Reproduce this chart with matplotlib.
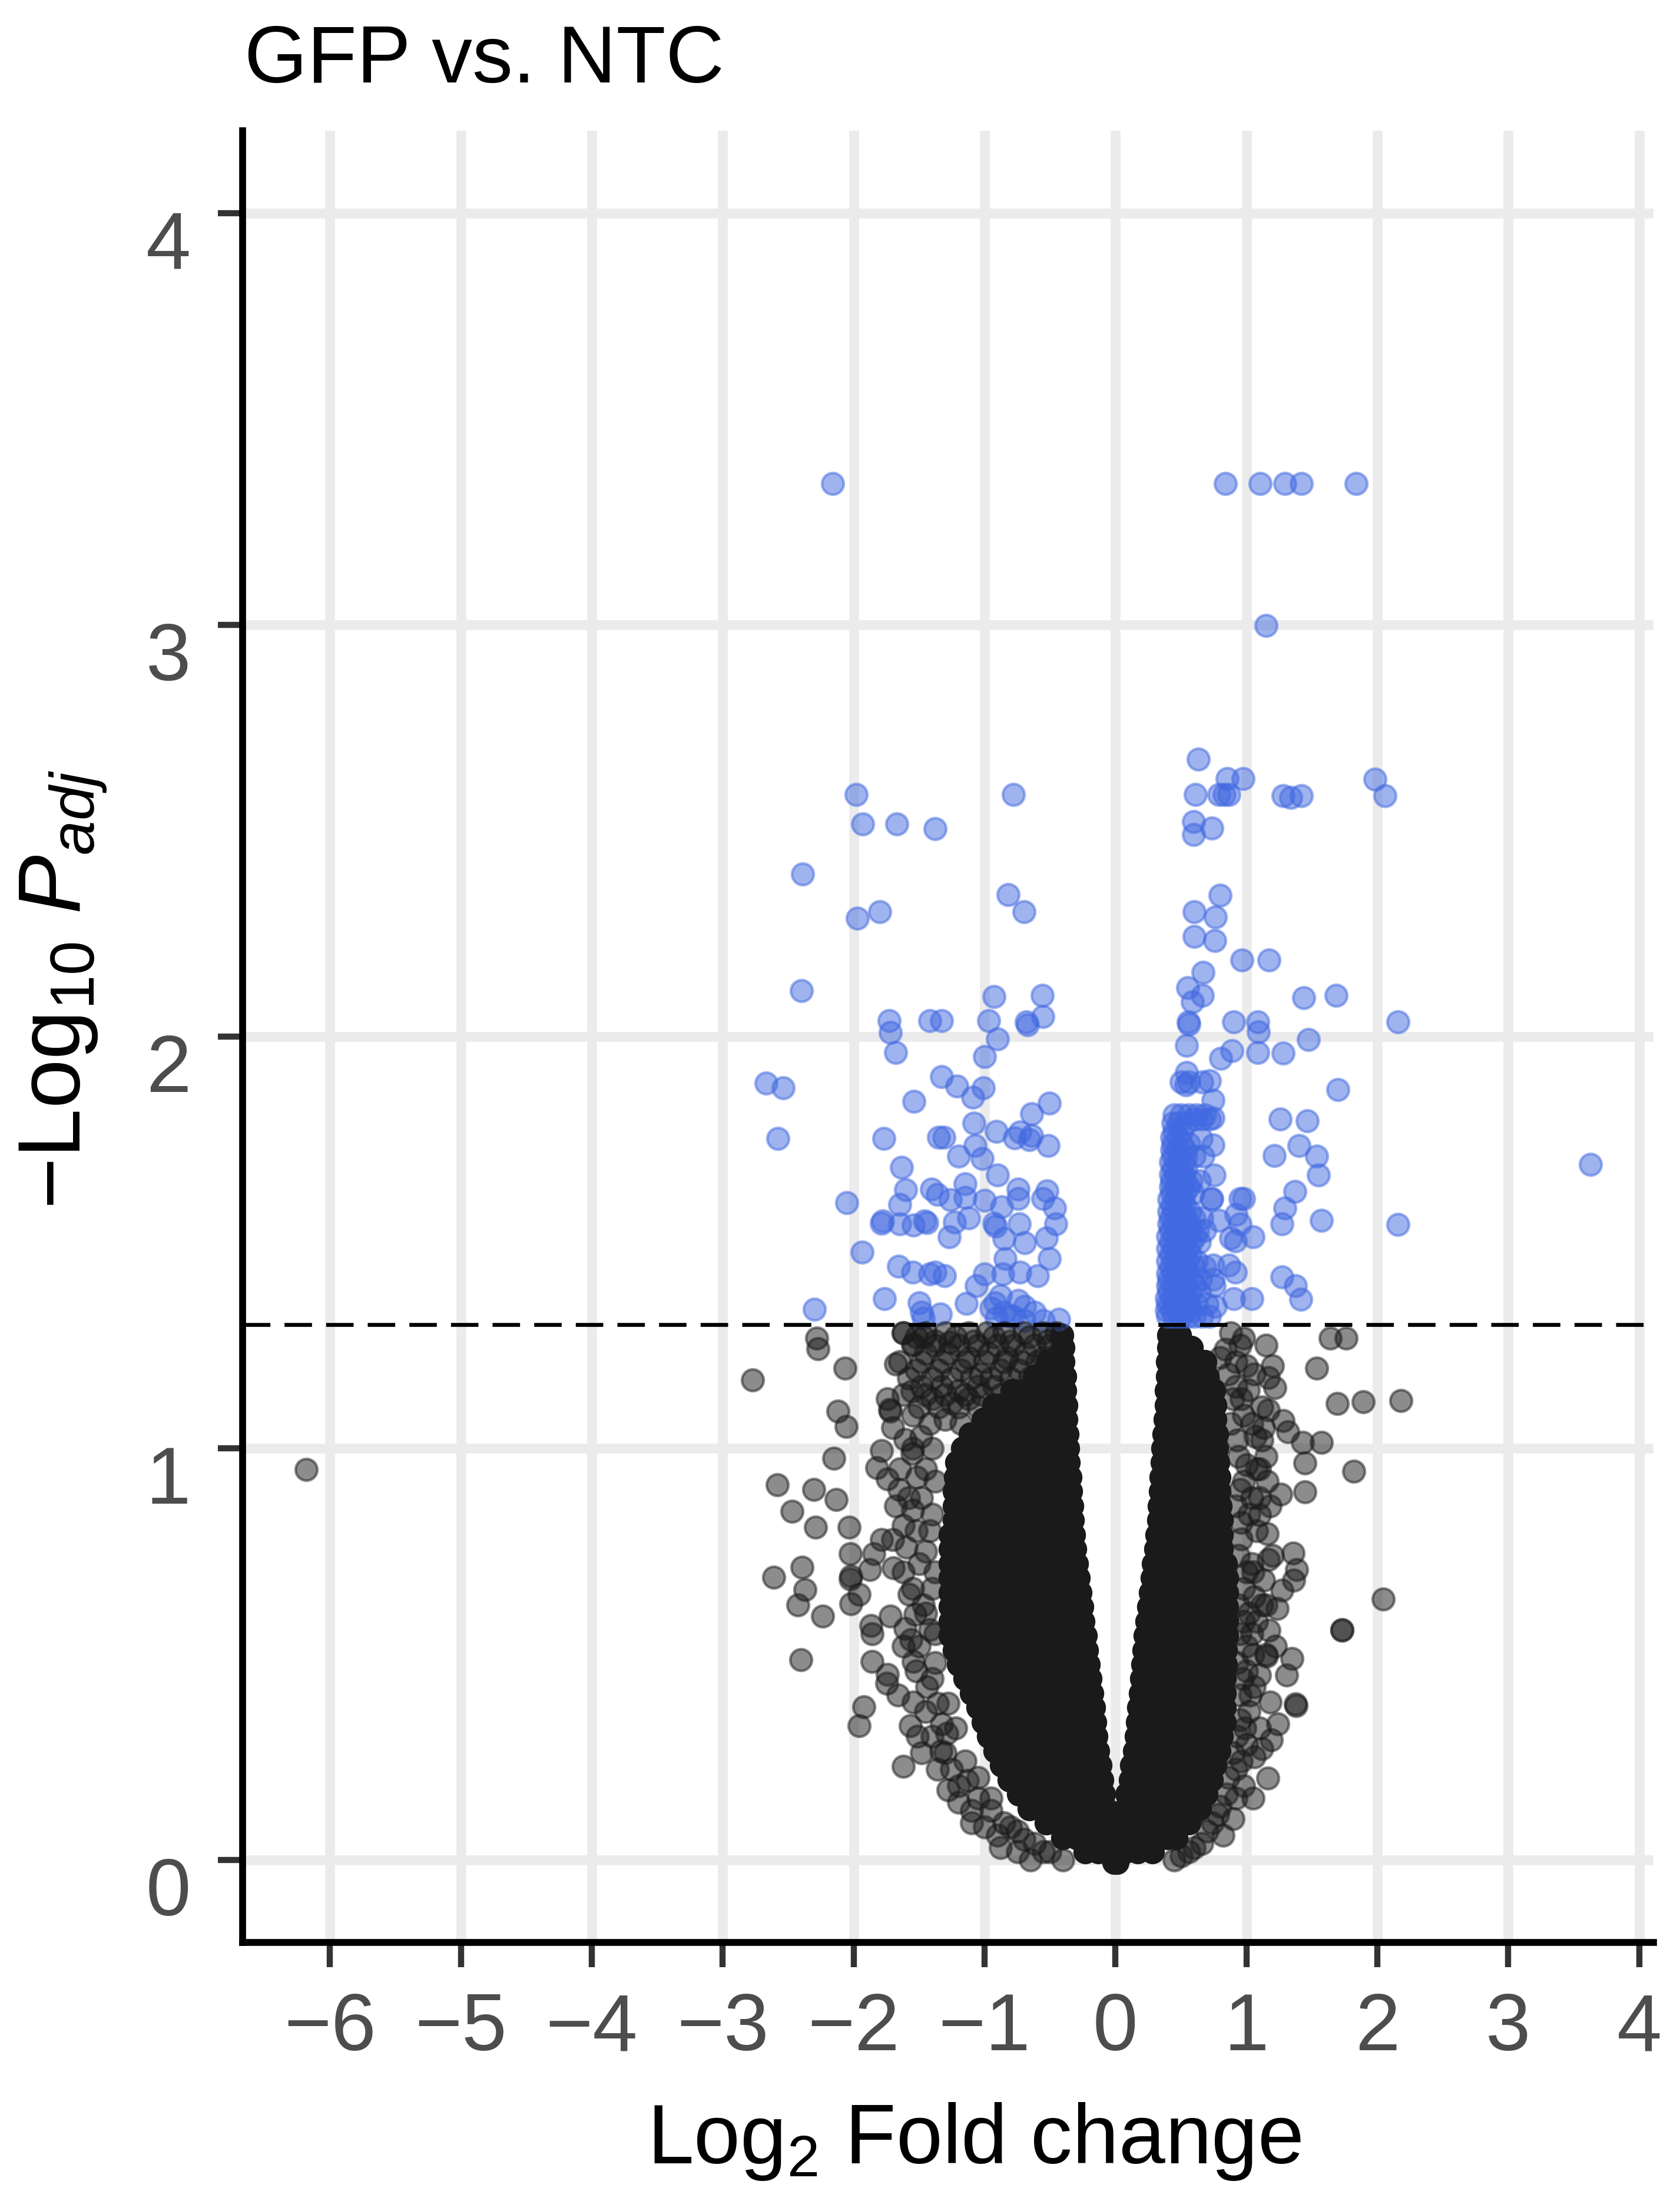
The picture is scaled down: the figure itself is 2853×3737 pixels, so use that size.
import matplotlib
matplotlib.use("Agg")
import matplotlib.pyplot as plt
from matplotlib.transforms import ScaledTranslation

plt.rcParams['font.family'] = ['Liberation Sans', 'DejaVu Sans']
plt.rcParams['mathtext.fontset'] = 'custom'
plt.rcParams['mathtext.rm'] = 'Liberation Sans'
plt.rcParams['mathtext.it'] = 'Liberation Sans:italic'
plt.rcParams['axes.unicode_minus'] = True

# ---------------- data ----------------
title_text = "GFP vs. NTC"
x_ticks = [-6, -5, -4, -3, -2, -1, 0, 1, 2, 3, 4]
y_ticks = [0, 1, 2, 3, 4]
padj_threshold_nlp = 1.30103   # -log10(0.05)

# significant genes (log2FC, -log10 padj)
sig_points = [
    (-2.16, 3.343), (0.839, 3.343), (1.104, 3.343), (1.295, 3.343), (1.42, 3.343), (1.84, 3.343),
    (1.149, 2.998),
    (-1.98, 2.588), (-0.78, 2.588), (-1.93, 2.517), (-1.67, 2.517), (-1.38, 2.505), (-2.39, 2.395),
    (-0.82, 2.344), (-0.70, 2.303), (-1.97, 2.288), (-1.80, 2.303), (-2.40, 2.111), (-0.93, 2.097),
    (-0.56, 2.10), (-1.73, 2.039), (-1.72, 2.01), (-1.68, 1.962), (-1.42, 2.038), (-1.33, 2.038),
    (-0.97, 2.038), (-0.90, 1.994), (-1.00, 1.951), (-0.68, 2.035), (-0.67, 2.028), (-0.555, 2.049),
    (-2.67, 1.887), (-2.54, 1.876), (-1.33, 1.903), (-1.21, 1.88), (-1.01, 1.875), (-1.09, 1.852),
    (-1.54, 1.843), (-0.505, 1.838), (-0.64, 1.812),
    (-2.58, 1.753), (-1.77, 1.753), (-1.08, 1.79), (-0.91, 1.769), (-1.35, 1.756), (-1.31, 1.756),
    (-0.77, 1.754), (-0.73, 1.768), (-0.64, 1.759), (-0.66, 1.749), (-0.514, 1.735), (-1.074, 1.735),
    (-1.197, 1.709), (-1.016, 1.704), (-1.633, 1.683), (-0.901, 1.664), (-2.052, 1.597),
    (-1.601, 1.628), (-1.403, 1.63), (-1.148, 1.642), (-1.148, 1.61), (-1.649, 1.592),
    (-1.361, 1.616), (-1.263, 1.604), (-1.0, 1.602), (-0.868, 1.587), (-0.744, 1.63),
    (-0.744, 1.607), (-0.523, 1.625), (-0.555, 1.607), (-0.465, 1.583), (-1.789, 1.547),
    (-1.78, 1.552), (-1.649, 1.545), (-1.543, 1.542), (-1.46, 1.552), (-1.44, 1.548),
    (-1.123, 1.559), (-1.23, 1.549), (-0.926, 1.547), (-0.915, 1.54), (-0.736, 1.545),
    (-0.456, 1.545), (-1.271, 1.514), (-0.851, 1.509), (-0.695, 1.499), (-0.53, 1.511),
    (-1.937, 1.476), (-0.843, 1.461), (-0.506, 1.461), (-1.658, 1.442), (-1.551, 1.428),
    (-1.419, 1.423), (-1.378, 1.428), (-1.304, 1.419), (-1.0, 1.423), (-0.859, 1.423),
    (-0.728, 1.428), (-0.596, 1.419), (-1.065, 1.395), (-1.765, 1.364), (-1.501, 1.354),
    (-1.139, 1.352), (-0.917, 1.354), (-0.744, 1.359), (-0.695, 1.345), (-2.3, 1.338),
    (-1.468, 1.316), (-1.337, 1.326), (-0.432, 1.314), (-0.909, 1.316), (-0.80, 1.32),
    (-0.62, 1.33), (-0.55, 1.31), (-1.48, 1.33), (-0.95, 1.34), (-0.85, 1.33), (-0.78, 1.32),
    (-0.70, 1.31), (-0.88, 1.37),
    (0.633, 2.673), (0.851, 2.627), (0.974, 2.627), (0.611, 2.588), (0.79, 2.588), (0.866, 2.588),
    (0.83, 2.588), (1.28, 2.585), (1.34, 2.58), (1.42, 2.585), (1.98, 2.625), (2.06, 2.585),
    (0.595, 2.522), (0.595, 2.491), (0.734, 2.507), (0.80, 2.343), (0.603, 2.303), (0.761, 2.29),
    (0.603, 2.243), (0.757, 2.233), (0.964, 2.186), (1.173, 2.186), (0.668, 2.156), (0.55, 2.119),
    (0.663, 2.10), (0.588, 2.085), (1.437, 2.095), (1.685, 2.10), (0.558, 2.036), (0.56, 2.03),
    (0.904, 2.036), (1.085, 2.036), (1.092, 2.012), (2.156, 2.036), (0.543, 1.979), (1.476, 1.993),
    (0.889, 1.965), (0.802, 1.947), (1.085, 1.962), (1.28, 1.96), (0.543, 1.913), (0.536, 1.882),
    (0.716, 1.892), (1.697, 1.871), (0.744, 1.845), (1.257, 1.80), (1.465, 1.796),
    (1.212, 1.711), (1.40, 1.735), (1.535, 1.709), (1.55, 1.664), (1.37, 1.623), (1.295, 1.583),
    (1.272, 1.545), (1.573, 1.554), (2.156, 1.544), (1.272, 1.417), (1.377, 1.395), (1.415, 1.362),
    (0.904, 1.364), (1.04, 1.364), (0.952, 1.607), (0.98, 1.607), (0.92, 1.568), (0.952, 1.545),
    (1.05, 1.514), (0.917, 1.504), (0.79, 1.554), (0.738, 1.607), (0.746, 1.737), (0.753, 1.664),
    (0.746, 1.802), (0.746, 1.445), (0.866, 1.445), (0.917, 1.428), (0.753, 1.395), (0.761, 1.345),
    (3.63, 1.69), (0.668, 1.71), (0.73, 1.605), (0.88, 1.51), (0.654, 1.752),
    (0.40, 1.32), (0.45, 1.32), (0.50, 1.32), (0.55, 1.32), (0.60, 1.32), (0.66, 1.32), (0.72, 1.32),
    (0.40, 1.35), (0.45, 1.35), (0.50, 1.35), (0.56, 1.35), (0.62, 1.35), (0.70, 1.35),
    (0.41, 1.38), (0.46, 1.38), (0.51, 1.38), (0.57, 1.38), (0.64, 1.38),
    (0.41, 1.41), (0.46, 1.41), (0.52, 1.41), (0.58, 1.41), (0.65, 1.41), (0.745, 1.41),
    (0.42, 1.44), (0.47, 1.44), (0.53, 1.44), (0.60, 1.44), (0.68, 1.44),
    (0.42, 1.47), (0.47, 1.47), (0.52, 1.47), (0.57, 1.47),
    (0.42, 1.50), (0.47, 1.50), (0.52, 1.50), (0.58, 1.50), (0.64, 1.50),
    (0.42, 1.53), (0.47, 1.53), (0.52, 1.53), (0.57, 1.53), (0.63, 1.53), (0.68, 1.53),
    (0.42, 1.56), (0.48, 1.56), (0.54, 1.56), (0.60, 1.56), (0.66, 1.56),
    (0.43, 1.59), (0.48, 1.59), (0.53, 1.59),
    (0.43, 1.62), (0.48, 1.62), (0.53, 1.62), (0.59, 1.62),
    (0.43, 1.65), (0.48, 1.65), (0.53, 1.65), (0.58, 1.65), (0.64, 1.65),
    (0.44, 1.68), (0.49, 1.68), (0.54, 1.68),
    (0.44, 1.71), (0.49, 1.71), (0.54, 1.71), (0.60, 1.71),
    (0.44, 1.74), (0.50, 1.74), (0.56, 1.74),
    (0.45, 1.77), (0.50, 1.77),
    (0.45, 1.81), (0.50, 1.81), (0.56, 1.81), (0.62, 1.81), (0.68, 1.81),
    (0.50, 1.89), (0.56, 1.89), (0.66, 1.89),
    (0.39, 1.335), (0.43, 1.335), (0.48, 1.335), (0.53, 1.335), (0.58, 1.335),
    (0.39, 1.365), (0.43, 1.365), (0.48, 1.365), (0.53, 1.365),
    (0.40, 1.395), (0.44, 1.395), (0.49, 1.395), (0.54, 1.395), (0.60, 1.395),
    (0.40, 1.425), (0.44, 1.425), (0.49, 1.425), (0.55, 1.425),
    (0.40, 1.455), (0.45, 1.455), (0.50, 1.455), (0.55, 1.455), (0.62, 1.455),
    (0.40, 1.485), (0.45, 1.485), (0.50, 1.485), (0.55, 1.485),
    (0.40, 1.515), (0.45, 1.515), (0.50, 1.515), (0.55, 1.515), (0.61, 1.515),
    (0.41, 1.545), (0.45, 1.545), (0.50, 1.545), (0.56, 1.545),
    (0.41, 1.575), (0.45, 1.575), (0.51, 1.575), (0.57, 1.575),
    (0.41, 1.605), (0.46, 1.605), (0.51, 1.605),
    (0.42, 1.635), (0.46, 1.635), (0.51, 1.635), (0.56, 1.635),
    (0.42, 1.665), (0.46, 1.665), (0.52, 1.665),
    (0.42, 1.695), (0.47, 1.695), (0.52, 1.695),
    (0.43, 1.725), (0.47, 1.725), (0.53, 1.725),
    (0.43, 1.755), (0.48, 1.755),
    (0.44, 1.79), (0.48, 1.79), (0.54, 1.79), (0.60, 1.80), (0.66, 1.80), (0.72, 1.80),
]

# non-significant genes outside the dense core (log2FC, -log10 padj)
ns_points = [
    (-6.18, 0.949),
    (-2.771, 1.166), (-2.282, 1.268), (-2.275, 1.242), (-2.065, 1.195), (-2.12, 1.09), (-2.057, 1.053),
    (-2.152, 0.976), (-2.583, 0.911), (-2.305, 0.90), (-2.132, 0.875), (-2.47, 0.847), (-2.293, 0.809),
    (-2.034, 0.809), (-2.027, 0.744), (-2.395, 0.711), (-2.61, 0.687), (-2.373, 0.656), (-2.425, 0.619),
    (-2.237, 0.592), (-2.027, 0.683), (-2.02, 0.69), (-1.959, 0.645), (-2.019, 0.622), (-1.876, 0.706),
    (-2.405, 0.486), (-1.861, 0.482), (-1.921, 0.372), (-1.959, 0.326), (-1.621, 0.227), (-1.786, 0.995),
    (-1.824, 0.953), (-1.741, 0.926), (-1.651, 0.90), (-1.681, 1.204), (-1.621, 1.28), (-1.744, 1.12),
    (-1.726, 1.094), (-1.72, 1.09), (-1.463, 1.271), (-1.546, 1.253), (-1.553, 1.139), (-1.267, 1.257),
    (-1.786, 0.778), (-1.704, 0.778), (-1.846, 0.744), (-1.696, 0.71), (-1.869, 0.569), (-1.861, 0.55),
    (-1.718, 0.592), (-1.606, 0.562), (-1.561, 0.535), (-1.741, 0.451), (-1.749, 0.429), (-1.546, 0.482),
    (-1.546, 0.383), (-1.568, 0.326), (-1.515, 0.30), (-1.335, 0.265), (-1.29, 0.307), (-1.132, 0.193),
    (-1.576, 0.645), (-1.531, 0.596), (-1.606, 1.021), (-1.485, 1.029), (-1.553, 0.987), (-1.516, 0.93),
    (-1.621, 0.812),
    (-1.62, 1.28), (-1.45, 1.28), (-1.30, 1.28), (-1.12, 1.28), (-0.98, 1.28), (-0.85, 1.28),
    (-0.70, 1.28), (-0.55, 1.28), (-0.45, 1.28),
    (-1.55, 1.25), (-1.38, 1.25), (-1.20, 1.25), (-1.05, 1.25), (-0.90, 1.25), (-0.78, 1.25),
    (-0.62, 1.25), (-0.50, 1.25),
    (-1.65, 1.21), (-1.48, 1.21), (-1.32, 1.21), (-1.15, 1.21), (-1.00, 1.21), (-0.85, 1.21),
    (-0.72, 1.21), (-0.60, 1.21), (-0.48, 1.21),
    (-1.58, 1.17), (-1.40, 1.17), (-1.25, 1.17), (-1.10, 1.17), (-0.95, 1.17), (-0.80, 1.17),
    (-0.66, 1.17), (-0.52, 1.17),
    (-1.62, 1.13), (-1.45, 1.13), (-1.30, 1.13), (-1.15, 1.13), (-1.02, 1.13), (-0.88, 1.13), (-0.72, 1.13),
    (-1.50, 1.10), (-1.35, 1.10), (-1.20, 1.10), (-1.05, 1.10),
    (-1.52, 1.27), (-1.38, 1.26), (-1.22, 1.27), (-1.08, 1.26), (-0.93, 1.27), (-0.80, 1.26),
    (-0.66, 1.27), (-0.52, 1.26),
    (-1.45, 1.23), (-1.28, 1.23), (-1.12, 1.22), (-0.97, 1.23), (-0.83, 1.22), (-0.69, 1.23),
    (-0.55, 1.22), (-0.44, 1.23),
    (-1.52, 1.19), (-1.35, 1.19), (-1.18, 1.19), (-1.03, 1.18), (-0.88, 1.19), (-0.74, 1.19),
    (-0.58, 1.18), (-0.45, 1.19),
    (-1.48, 1.15), (-1.33, 1.15), (-1.20, 1.14), (-1.05, 1.15), (-0.93, 1.15),
    (-1.40, 1.12), (-1.25, 1.11), (-1.12, 1.12), (-1.55, 1.08), (-1.30, 1.07), (-1.18, 1.06),
    (-1.42, 1.06), (-1.48, 0.88), (-1.40, 0.84), (-1.52, 0.80), (-1.45, 0.75), (-1.40, 0.66),
    (-1.47, 0.62), (-1.42, 0.56), (-1.50, 0.52), (-1.38, 0.48), (-1.44, 0.42), (-1.36, 0.38),
    (-1.40, 0.30), (-1.30, 0.26), (-1.25, 0.22), (-1.20, 0.18), (-1.05, 0.15), (-0.95, 0.12),
    (-0.85, 0.09), (-0.75, 0.07), (-0.62, 0.04), (-0.50, 0.02), (-0.40, 0.00), (-1.62, 0.70),
    (-1.58, 0.88), (-1.65, 0.95), (-1.55, 1.00), (-1.70, 1.05),
    (-0.95, 0.15), (-1.05, 0.20), (-0.80, 0.08), (-0.70, 0.05), (-0.55, 0.02), (-1.15, 0.24),
    (-1.22, 0.32), (-1.28, 0.38), (-1.10, 0.12), (-0.90, 0.06),
    (-1.40, 1.00), (-1.45, 0.95), (-1.38, 0.92), (-1.55, 0.85), (-1.42, 0.80), (-1.50, 0.72),
    (-1.38, 0.70), (-1.55, 0.66), (-1.45, 0.60), (-1.38, 0.55), (-1.52, 0.46), (-1.40, 0.44),
    (-1.45, 0.36), (-1.33, 0.33), (-1.48, 0.26), (-1.36, 0.22), (-1.20, 0.14), (-1.10, 0.09),
    (-1.00, 0.08), (-0.88, 0.03), (-0.75, 0.02), (-0.65, 0.00), (-1.28, 0.17), (-1.62, 0.52),
    (-1.66, 0.40), (-1.60, 0.76), (-1.68, 0.86),
    (1.64, 1.267), (1.761, 1.267), (1.538, 1.195), (1.693, 1.109), (1.893, 1.113), (2.182, 1.116),
    (1.573, 1.014), (1.821, 0.944), (2.043, 0.634), (1.731, 0.558), (1.73, 0.56), (1.445, 0.894),
    (1.43, 1.014), (1.152, 1.251), (0.979, 1.267), (1.167, 1.171), (1.219, 1.147), (1.016, 1.141),
    (1.167, 1.093), (1.28, 1.067), (1.317, 1.04), (1.069, 1.029), (1.355, 0.746), (1.385, 0.706),
    (1.362, 0.679), (1.272, 0.655), (1.235, 0.611), (1.174, 0.558), (1.152, 0.499), (1.155, 0.495),
    (1.347, 0.49), (1.309, 0.45), (1.377, 0.379), (1.38, 0.375), (1.182, 0.383), (1.19, 0.292),
    (1.163, 0.199), (1.445, 0.964), (1.264, 0.888), (1.167, 0.729), (1.159, 0.793), (1.099, 0.839),
    (0.95, 1.25), (1.0, 1.20), (0.92, 1.15), (0.98, 1.08), (0.93, 1.02), (1.0, 0.96), (0.95, 0.90),
    (1.02, 0.84), (0.96, 0.78), (1.04, 0.72), (0.98, 0.66), (1.02, 0.60), (0.95, 0.55), (1.05, 0.50),
    (0.97, 0.44), (1.03, 0.40), (0.95, 0.34), (1.0, 0.28), (0.92, 0.22), (0.85, 0.16), (0.78, 0.11),
    (0.70, 0.07), (0.60, 0.03), (0.50, 0.01), (1.1, 0.95), (1.08, 0.80), (1.12, 0.62), (1.1, 0.32),
    (1.06, 0.25), (1.13, 1.05), (1.12, 1.02), (1.08, 0.95), (1.15, 0.98), (1.1, 0.88), (1.18, 0.86),
    (1.05, 0.70), (1.13, 0.68), (1.08, 0.58), (1.0, 0.52), (1.1, 0.45), (1.02, 0.36), (0.98, 0.18),
    (1.05, 0.15), (0.90, 0.10), (0.82, 0.06),
    (0.88, 1.28), (0.84, 1.24), (0.92, 1.21), (0.86, 1.18), (0.80, 1.22), (0.90, 1.12), (0.96, 1.12),
    (0.88, 1.06), (1.04, 1.06), (0.94, 0.98), (0.98, 0.92), (0.92, 0.86), (1.04, 0.88), (0.96, 0.82),
    (0.94, 0.74), (1.00, 0.70), (0.94, 0.62), (1.06, 0.64), (0.98, 0.58), (1.04, 0.55), (0.93, 0.48),
    (1.00, 0.46), (0.95, 0.40), (1.06, 0.42), (0.93, 0.30), (0.99, 0.32), (0.90, 0.26), (0.96, 0.24),
    (0.86, 0.20), (0.92, 0.15), (0.80, 0.13), (0.74, 0.09), (0.66, 0.04), (0.56, 0.02), (0.45, 0.00),
    (1.16, 0.92), (1.20, 0.74), (1.22, 0.52), (1.15, 0.62), (1.24, 0.33), (1.12, 0.27), (1.2, 1.2),
    (1.06, 1.18), (1.12, 1.1),
]

# dense, fully overlapping core of non-significant genes, read row by row
core_nlp_levels = [-0.005, 0.02, 0.055, 0.09, 0.125, 0.16, 0.195, 0.23, 0.265, 0.30, 0.335, 0.37,
                   0.405, 0.44, 0.475, 0.51, 0.545, 0.58, 0.615, 0.65, 0.685, 0.72, 0.755, 0.79,
                   0.825, 0.86, 0.895, 0.93, 0.965, 1.0, 1.035, 1.07, 1.105, 1.14, 1.175, 1.21,
                   1.245, 1.275]
core_lfc_rows = [
    [-0.01, 0.01],
    [-0.23, -0.13, -0.03, 0.07, 0.17, 0.28],
    [-0.40, -0.30, -0.20, -0.10, 0.0, 0.10, 0.20, 0.30, 0.40, 0.46],
    [-0.53, -0.43, -0.33, -0.23, -0.13, -0.03, 0.07, 0.17, 0.27, 0.37, 0.47, 0.56],
    [-0.66, -0.56, -0.46, -0.36, -0.26, -0.16, -0.075, 0.075, 0.15, 0.25, 0.35, 0.45, 0.55, 0.64],
    [-0.09, -0.18, -0.28, -0.38, -0.48, -0.58, -0.67, -0.74, 0.09, 0.18, 0.28, 0.38, 0.48, 0.58, 0.69],
    [-0.105, -0.20, -0.30, -0.40, -0.50, -0.60, -0.70, -0.81, 0.115, 0.21, 0.31, 0.41, 0.51, 0.61, 0.73],
    [-0.12, -0.22, -0.32, -0.42, -0.52, -0.62, -0.72, -0.80, -0.87, 0.125, 0.22, 0.32, 0.42, 0.52, 0.62, 0.70, 0.76],
    [-0.135, -0.23, -0.33, -0.43, -0.53, -0.63, -0.73, -0.83, -0.92, 0.145, 0.24, 0.34, 0.44, 0.54, 0.64, 0.72, 0.79],
    [-0.15, -0.245, -0.345, -0.445, -0.545, -0.645, -0.745, -0.845, -0.915, -0.97,
     0.16, 0.255, 0.355, 0.455, 0.555, 0.655, 0.74, 0.81],
    [-0.16, -0.26, -0.36, -0.46, -0.56, -0.66, -0.76, -0.86, -0.94, -1.01,
     0.17, 0.27, 0.37, 0.47, 0.57, 0.67, 0.76, 0.83],
    [-0.17, -0.27, -0.37, -0.47, -0.57, -0.67, -0.77, -0.87, -0.97, -1.05,
     0.18, 0.28, 0.38, 0.48, 0.58, 0.68, 0.76, 0.83],
    [-0.18, -0.28, -0.38, -0.48, -0.58, -0.68, -0.78, -0.88, -0.98, -1.05, -1.10,
     0.19, 0.29, 0.39, 0.49, 0.59, 0.69, 0.77, 0.83],
    [-0.195, -0.295, -0.395, -0.495, -0.595, -0.695, -0.795, -0.895, -0.995, -1.08, -1.15,
     0.20, 0.30, 0.40, 0.50, 0.60, 0.70, 0.77, 0.83],
    [-0.21, -0.31, -0.41, -0.51, -0.61, -0.71, -0.81, -0.91, -1.01, -1.11, -1.20,
     0.21, 0.31, 0.41, 0.51, 0.61, 0.71, 0.78, 0.84],
    [-0.22, -0.32, -0.42, -0.52, -0.62, -0.72, -0.82, -0.92, -1.02, -1.12, -1.23,
     0.22, 0.32, 0.42, 0.52, 0.62, 0.72, 0.78, 0.84],
    [-0.23, -0.33, -0.43, -0.53, -0.63, -0.73, -0.83, -0.93, -1.03, -1.13, -1.21, -1.26,
     0.23, 0.33, 0.43, 0.53, 0.63, 0.73, 0.79, 0.85],
    [-0.25, -0.35, -0.45, -0.55, -0.65, -0.75, -0.85, -0.95, -1.05, -1.15, -1.26,
     0.24, 0.34, 0.44, 0.54, 0.64, 0.74, 0.85],
    [-0.26, -0.36, -0.46, -0.56, -0.66, -0.76, -0.86, -0.96, -1.06, -1.16, -1.26,
     0.255, 0.355, 0.455, 0.555, 0.655, 0.755, 0.85],
    [-0.27, -0.37, -0.47, -0.57, -0.67, -0.77, -0.87, -0.97, -1.07, -1.17, -1.26,
     0.27, 0.37, 0.47, 0.57, 0.67, 0.77, 0.85],
    [-0.285, -0.385, -0.485, -0.585, -0.685, -0.785, -0.885, -0.985, -1.085, -1.185, -1.26,
     0.28, 0.38, 0.48, 0.58, 0.68, 0.78, 0.85],
    [-0.30, -0.40, -0.50, -0.60, -0.70, -0.80, -0.90, -1.00, -1.10, -1.20, -1.26,
     0.29, 0.39, 0.49, 0.59, 0.69, 0.78, 0.84],
    [-0.31, -0.41, -0.51, -0.61, -0.71, -0.81, -0.91, -1.01, -1.11, -1.21, -1.26,
     0.31, 0.41, 0.51, 0.61, 0.71, 0.81],
    [-0.32, -0.42, -0.52, -0.62, -0.72, -0.82, -0.92, -1.02, -1.12, -1.22, -1.26,
     0.32, 0.42, 0.52, 0.62, 0.72, 0.81],
    [-0.33, -0.43, -0.53, -0.63, -0.73, -0.83, -0.93, -1.03, -1.13, -1.23,
     0.33, 0.43, 0.53, 0.63, 0.73, 0.81],
    [-0.335, -0.435, -0.535, -0.635, -0.735, -0.835, -0.935, -1.035, -1.135, -1.23,
     0.335, 0.435, 0.535, 0.635, 0.735, 0.80],
    [-0.345, -0.445, -0.545, -0.645, -0.745, -0.845, -0.945, -1.045, -1.145, -1.23,
     0.345, 0.445, 0.545, 0.645, 0.745, 0.79],
    [-0.35, -0.45, -0.55, -0.65, -0.75, -0.85, -0.95, -1.05, -1.15, -1.22,
     0.35, 0.45, 0.55, 0.65, 0.75, 0.79],
    [-0.36, -0.46, -0.56, -0.66, -0.76, -0.86, -0.96, -1.06, -1.16, -1.21,
     0.36, 0.46, 0.56, 0.66, 0.76, 0.78],
    [-0.365, -0.465, -0.565, -0.665, -0.765, -0.865, -0.965, -1.065, -1.165,
     0.365, 0.465, 0.565, 0.665, 0.77],
    [-0.37, -0.47, -0.57, -0.67, -0.77, -0.87, -0.97, -1.07, -1.11,
     0.37, 0.47, 0.57, 0.67, 0.77],
    [-0.38, -0.48, -0.58, -0.68, -0.78, -0.88, -0.98, -1.01,
     0.38, 0.48, 0.58, 0.68, 0.76],
    [-0.38, -0.48, -0.58, -0.68, -0.78, -0.88, -0.93,
     0.39, 0.49, 0.59, 0.69, 0.76],
    [-0.39, -0.49, -0.59, -0.69, -0.79,
     0.39, 0.49, 0.59, 0.69, 0.75],
    [-0.39, -0.50, -0.62, 0.40, 0.50, 0.60, 0.70],
    [-0.40, -0.52, 0.40, 0.50, 0.60, 0.68],
    [-0.40, 0.41, 0.50, 0.58],
    [-0.41, 0.41, 0.49],
]

# ---------------- build arrays ----------------
sig_lfc = [p[0] for p in sig_points]
sig_nlp = [p[1] for p in sig_points]
ns_lfc = [p[0] for p in ns_points]
ns_nlp = [p[1] for p in ns_points]
core_lfc, core_nlp = [], []
for lvl, row in zip(core_nlp_levels, core_lfc_rows):
    for xv in row:
        core_lfc.append(xv)
        core_nlp.append(lvl)

# ---------------- figure ----------------
W, H, DPI = 2853, 3737, 300
fig = plt.figure(figsize=(W / DPI, H / DPI), dpi=DPI)
ax = fig.add_axes([0.1443, 0.1175, 0.9841 - 0.1443, 0.9406 - 0.1175])

grey10 = '#1a1a1a'
blue = '#4169E1'
msize = 78
ew = 1.1

ax.scatter(core_lfc, core_nlp, s=msize, facecolor=grey10, edgecolor=grey10, linewidths=ew,
           alpha=1.0, zorder=3)
ax.scatter(sig_lfc, sig_nlp, s=msize, facecolor=blue, edgecolor=blue, linewidths=ew,
           alpha=0.5, zorder=3)
ax.scatter(ns_lfc, ns_nlp, s=msize, facecolor=grey10, edgecolor=grey10, linewidths=ew,
           alpha=0.5, zorder=3)

ax.axhline(padj_threshold_nlp, color='black', linewidth=1.6, dashes=(7, 3.6), zorder=5)

ax.set_xlim(-6.669, 4.108)
ax.set_ylim(-0.2, 4.2)
ax.set_xticks(x_ticks)
ax.set_yticks(y_ticks)
ax.set_xticklabels([f"{v}".replace('-', '\u2212') for v in x_ticks])
ax.set_yticklabels([str(v) for v in y_ticks])

ax.grid(True, color='#EBEBEB', linewidth=4)
ax.set_axisbelow(True)
for side in ['top', 'right']:
    ax.spines[side].set_visible(False)
for side in ['left', 'bottom']:
    ax.spines[side].set_linewidth(2.8)
    ax.spines[side].set_color('black')
    ax.spines[side].set_zorder(6)

ax.tick_params(axis='both', length=10, width=2.5, color='#333333', labelsize=33,
               labelcolor='#4D4D4D')
ax.tick_params(axis='x', pad=10)
ax.tick_params(axis='y', pad=11)
off = ScaledTranslation(0, 1.5 / 72, fig.dpi_scale_trans)
for lab in ax.get_yticklabels():
    lab.set_va('top')
    lab.set_transform(lab.get_transform() + off)

fig.text(0.1455, 0.9625, title_text, fontsize=33, ha='left', va='baseline', color='black')
fig.text(0.5798, 0.0171, r"Log$_2$ Fold change", fontsize=34, ha='center', va='baseline',
         color='black')
fig.text(0.048, 0.5504, "\u2212Log$_{10}$ $P_{adj}$", fontsize=36, rotation=90,
         rotation_mode='anchor', ha='center', va='baseline', color='black')

fig.savefig('out.png', dpi=DPI)
